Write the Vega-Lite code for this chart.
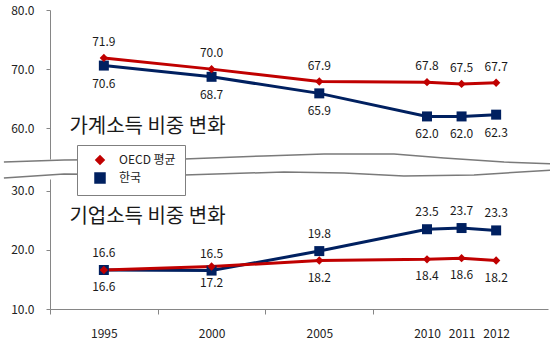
{
  "$schema": "https://vega.github.io/schema/vega-lite/v6.json",
  "background": "white",
  "padding": {"left": 0, "right": 0, "top": 4, "bottom": 4},
  "bounds": "flush",
  "spacing": 20,
  "config": {
    "font": "Noto Sans CJK KR",
    "view": {"stroke": null},
    "axis": {"grid": false, "domainColor": "#868686", "tickColor": "#868686", "labelColor": "#222222", "labelFontSize": 12, "labelFont": "Noto Sans CJK KR", "domainWidth": 1}
  },
  "datasets": {
    "main": [
      {"year": 1995, "series": "한국", "panel": "가계", "value": 70.6},
      {"year": 2000, "series": "한국", "panel": "가계", "value": 68.7},
      {"year": 2005, "series": "한국", "panel": "가계", "value": 65.9},
      {"year": 2010, "series": "한국", "panel": "가계", "value": 62.0},
      {"year": 2011, "series": "한국", "panel": "가계", "value": 62.0},
      {"year": 2012, "series": "한국", "panel": "가계", "value": 62.3},
      {"year": 1995, "series": "OECD 평균", "panel": "가계", "value": 71.9},
      {"year": 2000, "series": "OECD 평균", "panel": "가계", "value": 70.0},
      {"year": 2005, "series": "OECD 평균", "panel": "가계", "value": 67.9},
      {"year": 2010, "series": "OECD 평균", "panel": "가계", "value": 67.8},
      {"year": 2011, "series": "OECD 평균", "panel": "가계", "value": 67.5},
      {"year": 2012, "series": "OECD 평균", "panel": "가계", "value": 67.7},
      {"year": 1995, "series": "한국", "panel": "기업", "value": 16.6},
      {"year": 2000, "series": "한국", "panel": "기업", "value": 16.5},
      {"year": 2005, "series": "한국", "panel": "기업", "value": 19.8},
      {"year": 2010, "series": "한국", "panel": "기업", "value": 23.5},
      {"year": 2011, "series": "한국", "panel": "기업", "value": 23.7},
      {"year": 2012, "series": "한국", "panel": "기업", "value": 23.3},
      {"year": 1995, "series": "OECD 평균", "panel": "기업", "value": 16.6},
      {"year": 2000, "series": "OECD 평균", "panel": "기업", "value": 17.2},
      {"year": 2005, "series": "OECD 평균", "panel": "기업", "value": 18.2},
      {"year": 2010, "series": "OECD 평균", "panel": "기업", "value": 18.4},
      {"year": 2011, "series": "OECD 평균", "panel": "기업", "value": 18.6},
      {"year": 2012, "series": "OECD 평균", "panel": "기업", "value": 18.2}
    ],
    "titles": [
      {"label": "가계소득 비중 변화", "panel": "가계", "tx": 1993.4, "ty": 60.2},
      {"label": "기업소득 비중 변화", "panel": "기업", "tx": 1993.4, "ty": 25.6}
    ],
    "wave": [
      {"wx": 1990.36, "wy": 54.29, "line": "upper"},
      {"wx": 1993.15, "wy": 54.63, "line": "upper"},
      {"wx": 1998.72, "wy": 54.80, "line": "upper"},
      {"wx": 2002.43, "wy": 55.31, "line": "upper"},
      {"wx": 2005.22, "wy": 55.65, "line": "upper"},
      {"wx": 2008.47, "wy": 55.65, "line": "upper"},
      {"wx": 2010.49, "wy": 54.97, "line": "upper"},
      {"wx": 2012.23, "wy": 54.29, "line": "upper"},
      {"wx": 2013.68, "wy": 53.96, "line": "upper"},
      {"wx": 1990.36, "wy": 51.59, "line": "lower"},
      {"wx": 1993.15, "wy": 52.26, "line": "lower"},
      {"wx": 1998.72, "wy": 52.10, "line": "lower"},
      {"wx": 2003.36, "wy": 52.60, "line": "lower"},
      {"wx": 2006.15, "wy": 52.43, "line": "lower"},
      {"wx": 2008.93, "wy": 51.92, "line": "lower"},
      {"wx": 2011.36, "wy": 52.10, "line": "lower"},
      {"wx": 2013.68, "wy": 52.94, "line": "lower"}
    ]
  },
  "resolve": {
    "scale": {"x": "independent", "y": "independent", "color": "independent", "shape": "independent", "size": "independent"},
    "legend": {"color": "independent", "shape": "independent", "size": "independent"}
  },
  "vconcat": [
    {
      "width": 498,
      "height": 149,
      "encoding": {
        "x": {"field": "year", "type": "quantitative", "scale": {"domain": [1992.5, 2010, 2013.5], "range": [0, 377, 498], "nice": false, "zero": false}, "axis": null},
        "y": {"field": "value", "type": "quantitative", "scale": {"domain": [54.8, 80], "nice": false, "zero": false}, "axis": {"values": [60, 70, 80], "format": ".1f", "tickSize": 4, "labelPadding": 12, "title": null}}
      },
      "layer": [
        {
          "data": {"name": "wave"},
          "mark": {"type": "line", "strokeWidth": 1.5, "color": "#7a7a7a", "clip": false},
          "encoding": {
            "x": {"field": "wx", "type": "quantitative"},
            "y": {"field": "wy", "type": "quantitative"},
            "detail": {"field": "line", "type": "nominal"}
          }
        },
        {
          "data": {"name": "main"},
          "transform": [{"filter": "datum.panel == '가계'"}],
          "mark": {"type": "line", "strokeWidth": 3},
          "encoding": {
            "color": {"field": "series", "type": "nominal", "scale": {"domain": ["OECD 평균", "한국"], "range": ["#C00000", "#002060"]},
              "legend": {"orient": "none", "legendX": 27, "legendY": 135, "title": null, "padding": 9, "strokeColor": "#7f7f7f", "fillColor": "white", "labelFontSize": 12, "labelColor": "#222222", "labelFont": "Noto Sans CJK KR", "symbolSize": 100, "rowPadding": 2, "symbolOffset": 8, "labelOffset": 13, "symbolOpacity": 1}}
          }
        },
        {
          "data": {"name": "main"},
          "transform": [{"filter": "datum.panel == '가계'"}],
          "mark": {"type": "point", "filled": true, "opacity": 1},
          "encoding": {
            "color": {"field": "series", "type": "nominal", "scale": {"domain": ["OECD 평균", "한국"], "range": ["#C00000", "#002060"]},
              "legend": {"orient": "none", "legendX": 27, "legendY": 135, "title": null, "padding": 9, "strokeColor": "#7f7f7f", "fillColor": "white", "labelFontSize": 12, "labelColor": "#222222", "labelFont": "Noto Sans CJK KR", "symbolSize": 100, "rowPadding": 2, "symbolOffset": 8, "labelOffset": 13, "symbolOpacity": 1}},
            "shape": {"field": "series", "type": "nominal", "scale": {"domain": ["OECD 평균", "한국"], "range": ["diamond", "square"]},
              "legend": {"orient": "none", "legendX": 27, "legendY": 135, "title": null, "padding": 9, "strokeColor": "#7f7f7f", "fillColor": "white", "labelFontSize": 12, "labelColor": "#222222", "labelFont": "Noto Sans CJK KR", "symbolSize": 100, "rowPadding": 2, "symbolOffset": 8, "labelOffset": 13, "symbolOpacity": 1}},
            "size": {"field": "series", "type": "ordinal", "scale": {"domain": ["OECD 평균", "한국"], "range": [70, 100]}, "legend": null}
          }
        },
        {
          "data": {"name": "main"},
          "transform": [{"filter": "datum.panel == '가계' && datum.series == 'OECD 평균'"}],
          "mark": {"type": "text", "dy": -16, "fontSize": 12, "color": "#1a1a1a", "baseline": "middle"},
          "encoding": {"text": {"field": "value", "type": "quantitative", "format": ".1f"}}
        },
        {
          "data": {"name": "main"},
          "transform": [{"filter": "datum.panel == '가계' && datum.series == '한국'"}],
          "mark": {"type": "text", "dy": 18, "fontSize": 12, "color": "#1a1a1a", "baseline": "middle"},
          "encoding": {"text": {"field": "value", "type": "quantitative", "format": ".1f"}}
        },
        {
          "data": {"name": "titles"},
          "transform": [{"filter": "datum.panel == '가계'"}],
          "mark": {"type": "text", "fontSize": 20, "color": "#1a1a1a", "align": "left", "baseline": "middle"},
          "encoding": {
            "x": {"field": "tx", "type": "quantitative"},
            "y": {"field": "ty", "type": "quantitative"},
            "text": {"field": "label", "type": "nominal"}
          }
        }
      ]
    },
    {
      "width": 498,
      "height": 130,
      "encoding": {
        "x": {"field": "year", "type": "quantitative", "scale": {"domain": [1992.5, 2010, 2013.5], "range": [0, 377, 498], "nice": false, "zero": false},
          "axis": {"values": [1992.5, 1995, 1997.5, 2000, 2002.5, 2005, 2007.5, 2010, 2011, 2012], "format": "d", "labelExpr": "datum.value % 1 == 0 ? datum.label : ''", "tickOpacity": {"condition": {"test": "datum.value % 1 != 0", "value": 1}, "value": 0}, "tickSize": 5, "labelPadding": 14, "title": null, "labelOverlap": false, "labelFlush": false}},
        "y": {"field": "value", "type": "quantitative", "scale": {"domain": [10, 32], "nice": false, "zero": false}, "axis": {"values": [10, 20, 30], "format": ".1f", "tickSize": 4, "labelPadding": 12, "title": null}}
      },
      "layer": [
        {
          "data": {"name": "main"},
          "transform": [{"filter": "datum.panel == '기업'"}],
          "mark": {"type": "line", "strokeWidth": 3},
          "encoding": {
            "color": {"field": "series", "type": "nominal", "scale": {"domain": ["OECD 평균", "한국"], "range": ["#C00000", "#002060"]}, "legend": null}
          }
        },
        {
          "data": {"name": "main"},
          "transform": [{"filter": "datum.panel == '기업'"}],
          "mark": {"type": "point", "filled": true, "opacity": 1},
          "encoding": {
            "color": {"field": "series", "type": "nominal", "scale": {"domain": ["OECD 평균", "한국"], "range": ["#C00000", "#002060"]}, "legend": null},
            "shape": {"field": "series", "type": "nominal", "scale": {"domain": ["OECD 평균", "한국"], "range": ["diamond", "square"]}, "legend": null},
            "size": {"field": "series", "type": "ordinal", "scale": {"domain": ["OECD 평균", "한국"], "range": [70, 100]}, "legend": null}
          }
        },
        {
          "data": {"name": "main"},
          "transform": [{"filter": "datum.panel == '기업' && datum.series == '한국'"}],
          "mark": {"type": "text", "dy": -17, "fontSize": 12, "color": "#1a1a1a", "baseline": "middle"},
          "encoding": {"text": {"field": "value", "type": "quantitative", "format": ".1f"}}
        },
        {
          "data": {"name": "main"},
          "transform": [{"filter": "datum.panel == '기업' && datum.series == 'OECD 평균'"}],
          "mark": {"type": "text", "dy": 17, "fontSize": 12, "color": "#1a1a1a", "baseline": "middle"},
          "encoding": {"text": {"field": "value", "type": "quantitative", "format": ".1f"}}
        },
        {
          "data": {"name": "titles"},
          "transform": [{"filter": "datum.panel == '기업'"}],
          "mark": {"type": "text", "fontSize": 20, "color": "#1a1a1a", "align": "left", "baseline": "middle"},
          "encoding": {
            "x": {"field": "tx", "type": "quantitative"},
            "y": {"field": "ty", "type": "quantitative"},
            "text": {"field": "label", "type": "nominal"}
          }
        }
      ]
    }
  ]
}
